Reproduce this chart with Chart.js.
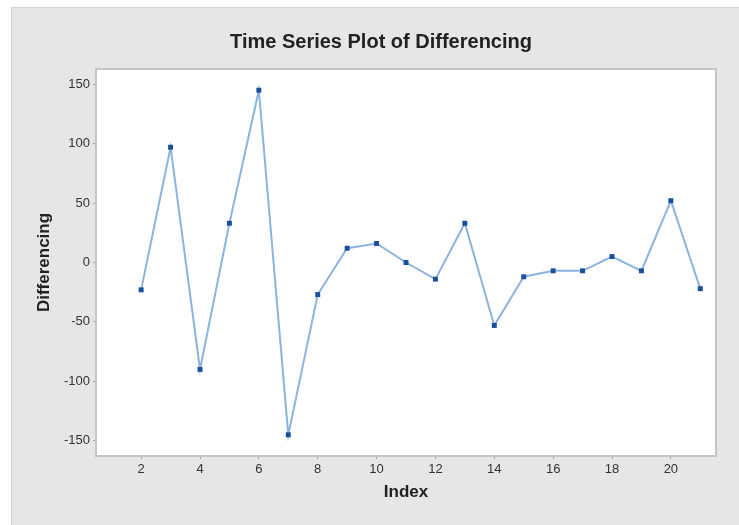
<!DOCTYPE html>
<html>
<head>
<meta charset="utf-8">
<script src="https://cdn.jsdelivr.net/npm/chart.js@4"></script>
<style>
  html, body { margin: 0; padding: 0; background: #fff; }
  #wrap { width: 739px; height: 525px; position: relative; }
</style>
</head>
<body>
<div id="wrap"><canvas id="tsChart"></canvas></div>
<script>
// Data
const indexValues = [2, 3, 4, 5, 6, 7, 8, 9, 10, 11, 12, 13, 14, 15, 16, 17, 18, 19, 20, 21];
const differencing = [-23, 97, -90, 33, 145, -145, -27, 12, 16, 0, -14, 33, -53, -12, -7, -7, 5, -7, 52, -22];
const xTicks = [2, 4, 6, 8, 10, 12, 14, 16, 18, 20];
const yTicks = [-150, -100, -50, 0, 50, 100, 150];

const chartTitle = 'Time Series Plot of Differencing';

const panelBg = '#e6e6e6';

// grey panel, white plot area, border and title
const frame = {
  id: 'frame',
  beforeDraw(chart) {
    const { ctx, chartArea: a } = chart;
    ctx.save();
    ctx.fillStyle = '#fff';
    ctx.fillRect(0, 0, chart.width, chart.height);
    ctx.fillStyle = panelBg;
    ctx.fillRect(11, 7, chart.width - 11, chart.height - 7);
    ctx.strokeStyle = '#d2d2d2';
    ctx.lineWidth = 1;
    ctx.strokeRect(11.5, 7.5, chart.width, chart.height);
    ctx.fillStyle = '#fff';
    ctx.fillRect(a.left, a.top, a.right - a.left, a.bottom - a.top);
    ctx.restore();
  },
  afterDraw(chart) {
    const { ctx, chartArea: a } = chart;
    ctx.save();
    ctx.strokeStyle = '#c6c6c6';
    ctx.lineWidth = 2;
    ctx.strokeRect(a.left - 1, a.top - 1, a.right - a.left + 2, a.bottom - a.top + 2);
    ctx.fillStyle = '#222';
    ctx.font = 'bold 20px "Liberation Sans", Arial, sans-serif';
    ctx.textAlign = 'center';
    ctx.textBaseline = 'middle';
    ctx.fillText(chartTitle, 381, 42);
    ctx.restore();
  }
};

const ctx = document.getElementById('tsChart').getContext('2d');
new Chart(ctx, {
  type: 'line',
  data: {
    datasets: [{
      label: 'Differencing',
      data: indexValues.map((x, i) => ({ x, y: differencing[i] })),
      borderColor: '#8db4dd',
      borderWidth: 2,
      pointStyle: 'rect',
      pointRadius: 3.5,
      pointBackgroundColor: '#1a4f9e',
      pointBorderColor: '#1a4f9e',
      pointBorderWidth: 0,
      tension: 0,
      fill: false
    }]
  },
  options: {
    responsive: true,
    maintainAspectRatio: false,
    animation: false,
    layout: { padding: { left: 0, top: 70, right: 24, bottom: 0 } },
    plugins: {
      legend: { display: false },
      tooltip: { enabled: false }
    },
    scales: {
      x: {
        type: 'linear',
        min: 0.5,
        max: 21.5,
        afterBuildTicks: s => { s.ticks = xTicks.map(v => ({ value: v })); },
        afterFit: s => { s.height = 70; },
        grid: { drawOnChartArea: false, drawTicks: true, tickLength: 4, color: '#a0a0a0' },
        border: { display: false },
        ticks: { color: '#333', padding: 3, maxRotation: 0, font: { size: 13, family: '"Liberation Sans", Arial, sans-serif' } },
        title: {
          display: true,
          text: 'Index',
          color: '#222',
          padding: { top: 0, bottom: 22 },
          font: { size: 17, weight: 'bold', family: '"Liberation Sans", Arial, sans-serif' }
        }
      },
      y: {
        min: -162,
        max: 162,
        afterBuildTicks: s => { s.ticks = yTicks.map(v => ({ value: v })); },
        afterFit: s => { s.width = 97; },
        grid: { drawOnChartArea: false, drawTicks: true, tickLength: 4, color: '#a0a0a0' },
        border: { display: false },
        ticks: { color: '#333', padding: 3, font: { size: 13, family: '"Liberation Sans", Arial, sans-serif' } },
        title: {
          display: true,
          text: 'Differencing',
          color: '#222',
          padding: { top: 34, bottom: 0 },
          font: { size: 17, weight: 'bold', family: '"Liberation Sans", Arial, sans-serif' }
        }
      }
    }
  },
  plugins: [frame]
});
</script>
</body>
</html>
